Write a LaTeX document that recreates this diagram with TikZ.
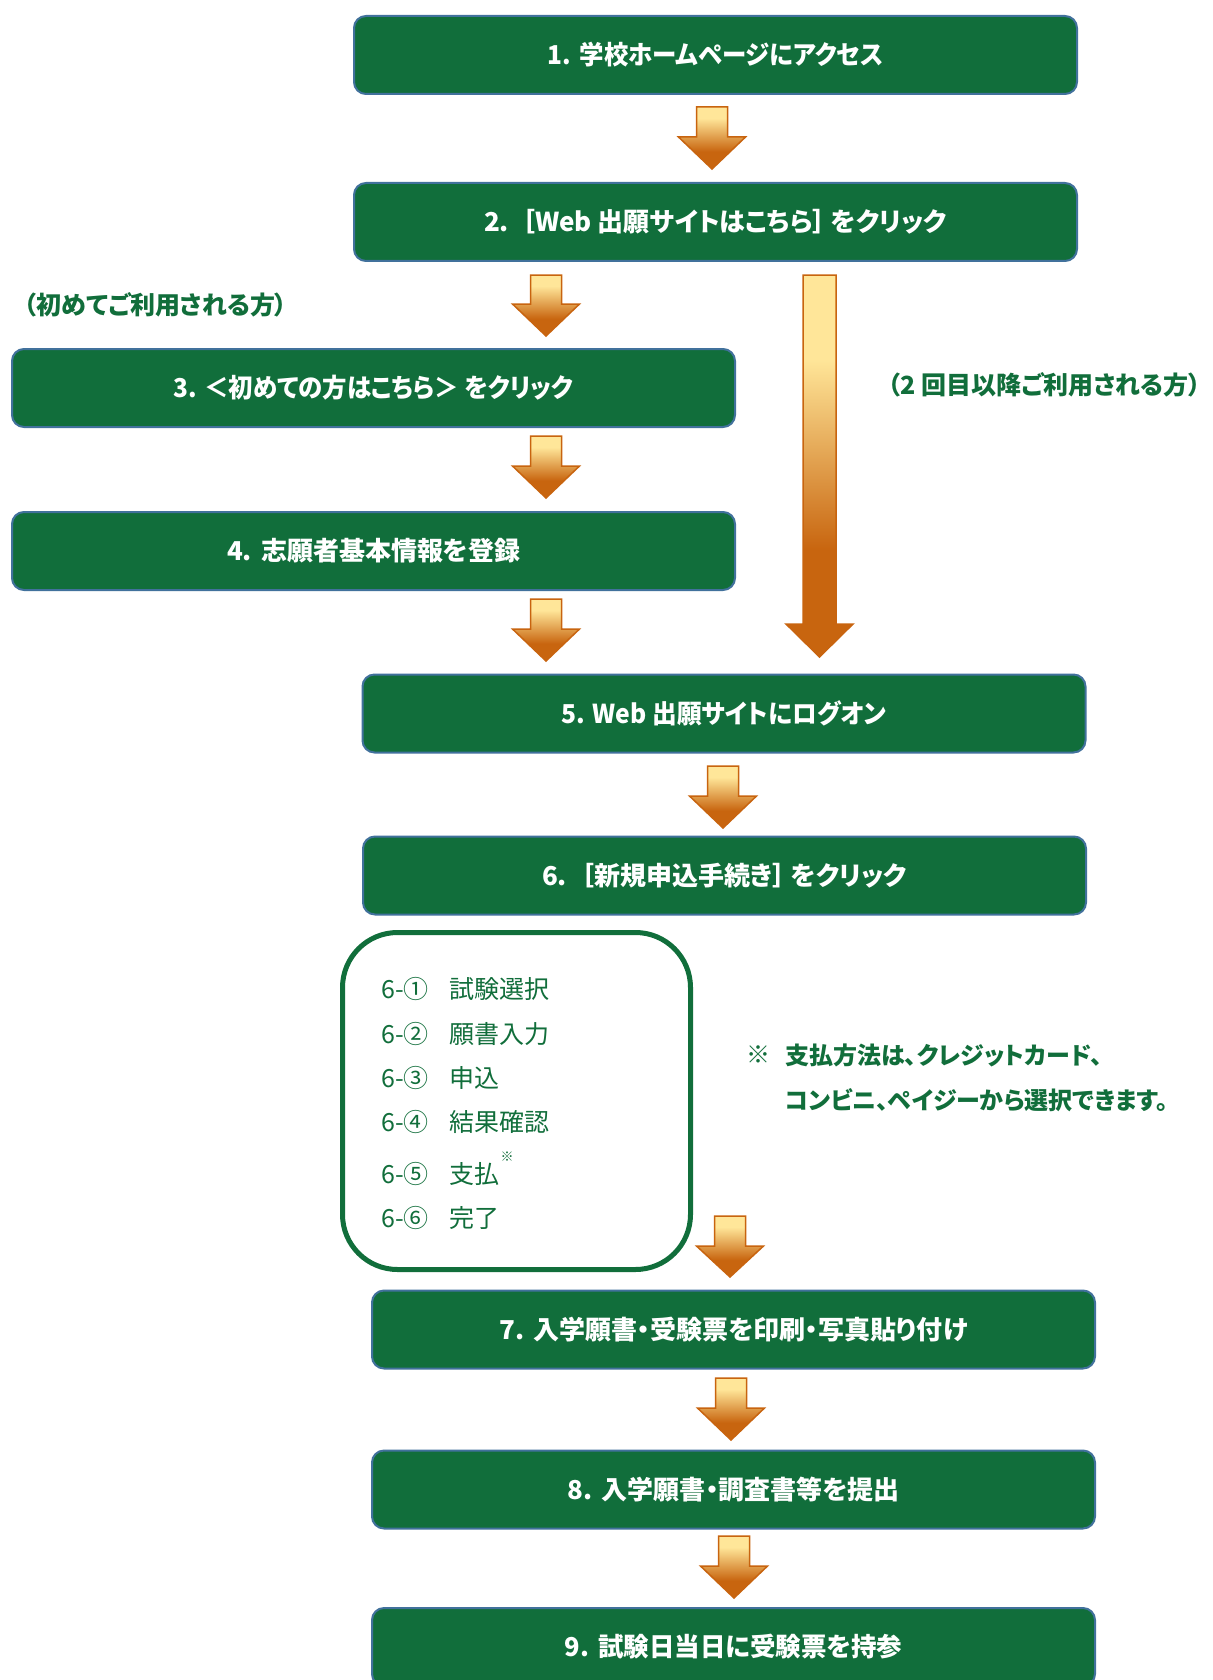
\documentclass[tikz,border=0pt]{standalone}
\usepackage{fontspec}
\newfontfamily\jp{Noto Sans CJK JP}[RawFeature=+palt]
\newfontfamily\jpn{Noto Sans CJK JP}
\definecolor{boxgreen}{HTML}{116E3B}
\definecolor{boxline}{HTML}{41719C}
\definecolor{arrline}{HTML}{C8640F}
\definecolor{ylw}{HTML}{FFE699}
\definecolor{orng}{HTML}{C8650F}
\pgfdeclareverticalshading{arrowgrad}{100bp}{color(0bp)=(orng); color(25bp)=(orng); color(39bp)=(orng); color(66bp)=(ylw); color(75bp)=(ylw); color(100bp)=(ylw)}
\pgfdeclareverticalshading{longgrad}{100bp}{color(0bp)=(orng); color(25bp)=(orng); color(39bp)=(orng); color(64bp)=(ylw); color(75bp)=(ylw); color(100bp)=(ylw)}
% block arrow: #1 cx, #2 top, #3 head start, #4 tip, #5 shaft half width, #6 head half width, #7 shading
\newcommand{\flowarrow}[7]{%
  \shadedraw[shading=#7, draw=arrline, line width=1.5pt, line join=miter]
    (#1-#5,#2) -- (#1+#5,#2) -- (#1+#5,#3) -- (#1+#6,#3) -- (#1,#4) -- (#1-#6,#3) -- (#1-#5,#3) -- cycle;}
\newcommand{\squeeze}[2]{\scalebox{#1}[1]{#2}}
\tikzset{
  stepbox/.style={draw=boxline, line width=2pt, fill=boxgreen, rounded corners=12pt,
    minimum width=723pt, minimum height=78pt, inner sep=0pt, text=white,
    font=\jp\bfseries\fontsize{26}{30}\selectfont},
  grnlabel/.style={text=boxgreen, font=\jp\bfseries\fontsize{24}{28}\selectfont, inner sep=0pt},
  biglabel/.style={text=boxgreen, font=\jp\bfseries\fontsize{25}{30}\selectfont, inner sep=0pt},
  listtext/.style={text=boxgreen, font=\jpn\fontsize{25}{30}\selectfont, inner sep=0pt, anchor=base west},
}
\begin{document}
\begin{tikzpicture}[x=1pt,y=-1pt]
\useasboundingbox (0,0) rectangle (1212,1680);
\clip (0,0) rectangle (1212,1680);
\fill[white] (0,0) rectangle (1212,1680);

% boxes
\node[stepbox] (b1) at (715.5,55) {\squeeze{0.94}{1.\hspace{0.35em}学校ホームページにアクセス}};
\node[stepbox] (b2) at (715.5,222) {2.\hspace{0.5em}［Web 出願サイトはこちら］\hspace{0.2em}をクリック};
\node[stepbox] (b3) at (373.5,388) {\squeeze{0.94}{3.\hspace{0.3em}＜初めての方はこちら＞ をクリック}};
\node[stepbox] (b4) at (373.5,551) {4.\hspace{0.35em}志願者基本情報を登録};
\node[stepbox] (b5) at (724,713.5) {\squeeze{0.95}{5. Web 出願サイトにログオン}};
\node[stepbox] (b6) at (724.5,875.5) {6.\hspace{0.55em}［新規申込手続き］\hspace{0.2em}をクリック};
\node[stepbox] (b7) at (733.5,1329.5) {7.\hspace{0.35em}入学願書・受験票を印刷・写真貼り付け};
\node[stepbox] (b8) at (733.5,1489.5) {8.\hspace{0.35em}入学願書・調査書等を提出};
\node[stepbox] (b9) at (733.5,1647) {\squeeze{0.98}{9.\hspace{0.35em}試験日当日に受験票を持参}};

% labels
\node[biglabel, anchor=west] (lfirst) at (24,305) {（初めてご利用される方）};
\node[biglabel, anchor=west] (lsecond) at (888,385) {（2 回目以降ご利用される方）};

% sub-step panel
\node[draw=boxgreen, line width=5pt, rounded corners=55pt, minimum width=348pt, minimum height=337pt, inner sep=0pt] (plist) at (516.5,1101) {};
\node[listtext] (n1) at (381,998) {6-①};
\node[listtext] (t1) at (449,998) {試験選択};
\node[listtext] (n2) at (381,1043) {6-②};
\node[listtext] (t2) at (449,1043) {願書入力};
\node[listtext] (n3) at (381,1087) {6-③};
\node[listtext] (t3) at (449,1087) {申込};
\node[listtext] (n4) at (381,1131) {6-④};
\node[listtext] (t4) at (449,1131) {結果確認};
\node[listtext] (n5) at (381,1183) {6-⑤};
\node[listtext] (t5) at (449,1183) {支払};
\node[text=boxgreen, font=\jpn\fontsize{13}{15}\selectfont, inner sep=0pt] (s5) at (507,1157) {※};
\node[listtext] (n6) at (381,1227) {6-⑥};
\node[listtext] (t6) at (449,1227) {完了};

% payment note
\node[grnlabel, anchor=center] (nmark) at (758,1055) {※};
\node[grnlabel, anchor=west] (note1) at (785,1055) {支払方法は、クレジットカード、};
\node[grnlabel, anchor=west] (note2) at (785,1100) {コンビニ、ペイジーから選択できます。};

% arrows
\flowarrow{712}{107}{137}{169}{15.5}{33.5}{arrowgrad}
\flowarrow{546}{275}{304}{336}{15.5}{33.5}{arrowgrad}
\flowarrow{546}{436}{466}{498}{15.5}{33.5}{arrowgrad}
\flowarrow{546}{599}{629}{661}{15.5}{33.5}{arrowgrad}
\flowarrow{819.5}{275}{624}{657}{16.5}{33.5}{longgrad}
\flowarrow{723}{766}{796}{828}{15.5}{33.5}{arrowgrad}
\flowarrow{730}{1216}{1246}{1277}{15.5}{33.5}{arrowgrad}
\flowarrow{731}{1378}{1408}{1440}{15.5}{33.5}{arrowgrad}
\flowarrow{734}{1536}{1566}{1598}{15.5}{33.5}{arrowgrad}
\end{tikzpicture}
\end{document}
